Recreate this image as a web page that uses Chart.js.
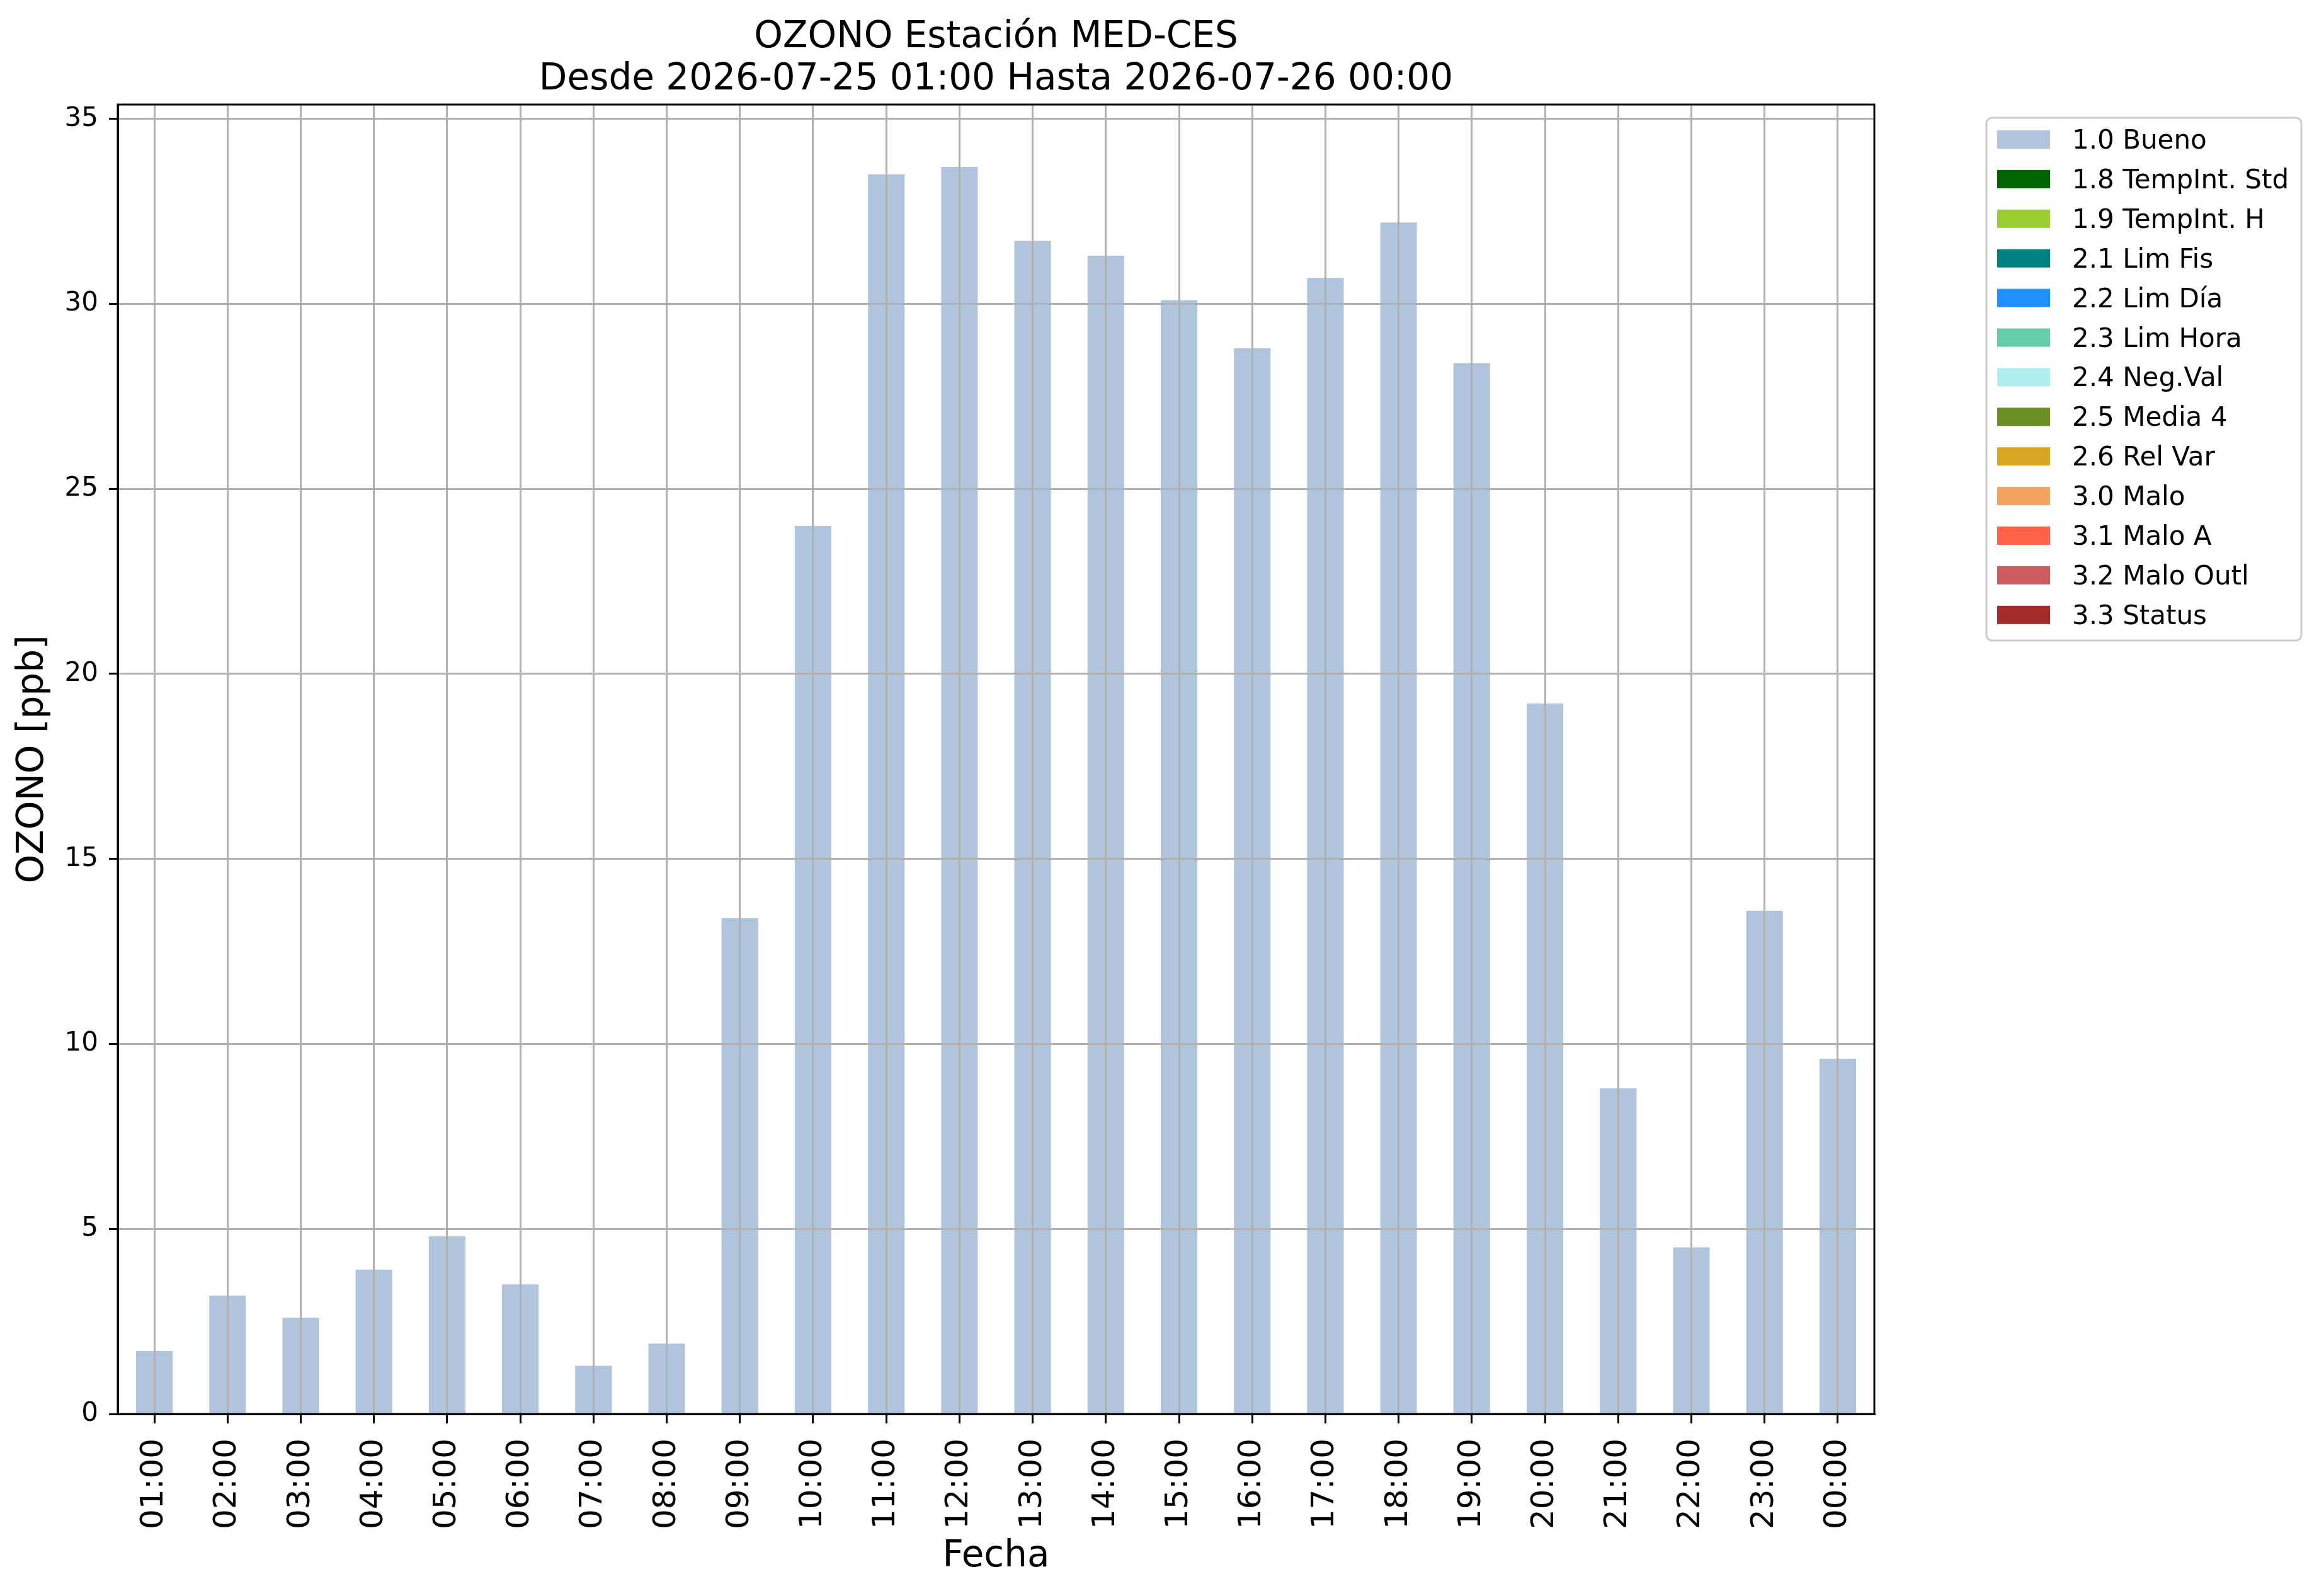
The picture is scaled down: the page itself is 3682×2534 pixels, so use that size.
<!DOCTYPE html>
<html>
<head>
<meta charset="utf-8">
<title>OZONO Estación MED-CES</title>
<script src="https://cdn.jsdelivr.net/npm/chart.js@4.4.1/dist/chart.umd.min.js"></script>
<style>
  html, body { margin: 0; padding: 0; background: #ffffff; }
  #wrap { width: 3682px; height: 2534px; }
</style>
</head>
<body>
<div id="wrap"><canvas id="ozonoChart" width="3682" height="2534"></canvas></div>
<script>
// Horas del periodo (eje X)
const horas = ["01:00", "02:00", "03:00", "04:00", "05:00", "06:00", "07:00", "08:00",
  "09:00", "10:00", "11:00", "12:00", "13:00", "14:00", "15:00", "16:00",
  "17:00", "18:00", "19:00", "20:00", "21:00", "22:00", "23:00", "00:00"];

// Valores de ozono con bandera 1.0 Bueno [ppb]
const bueno = [1.7, 3.2, 2.6, 3.9, 4.8, 3.5, 1.3, 1.9,
  13.4, 24.0, 33.5, 33.7, 31.7, 31.3, 30.1, 28.8,
  30.7, 32.2, 28.4, 19.2, 8.8, 4.5, 13.6, 9.6];

// Categorias de validacion y sus colores
const categorias = ["1.0 Bueno", "1.8 TempInt. Std", "1.9 TempInt. H", "2.1 Lim Fis",
  "2.2 Lim Día", "2.3 Lim Hora", "2.4 Neg.Val", "2.5 Media 4", "2.6 Rel Var",
  "3.0 Malo", "3.1 Malo A", "3.2 Malo Outl", "3.3 Status"];
const colores = ["#B0C4DE", "#006400", "#9ACD32", "#008080", "#1E90FF", "#66CDAA",
  "#AFEEEE", "#6B8E23", "#DAA520", "#F4A460", "#FF6347", "#CD5C5C", "#A52A2A"];

const yTicks = [0, 5, 10, 15, 20, 25, 30, 35];

const FONT = "DejaVu Sans";

// Titulo de dos lineas centrado sobre el area del grafico
const titlePlugin = {
  id: "matTitle",
  afterDraw(chart) {
    const ctx = chart.ctx;
    const area = chart.chartArea;
    const cx = (area.left + area.right) / 2;
    ctx.save();
    ctx.fillStyle = "#000000";
    ctx.font = "58px '" + FONT + "'";
    ctx.textAlign = "center";
    ctx.textBaseline = "alphabetic";
    ctx.fillText("OZONO Estación MED-CES", cx, 75);
    ctx.fillText("Desde 2026-07-25 01:00 Hasta 2026-07-26 00:00", cx, 142);
    ctx.restore();
  }
};

// Marco superior y derecho del area del grafico
const framePlugin = {
  id: "frame",
  afterDraw(chart) {
    const ctx = chart.ctx;
    const a = chart.chartArea;
    ctx.save();
    ctx.strokeStyle = "#000000";
    ctx.lineWidth = 3;
    ctx.strokeRect(a.left, a.top, a.right - a.left, a.bottom - a.top);
    ctx.restore();
  }
};

// Leyenda fuera del grafico, a la derecha, con marco redondeado
const legendPlugin = {
  id: "sideLegend",
  afterDraw(chart) {
    const ctx = chart.ctx;
    const sets = chart.data.datasets;
    const x0 = 3154, y0 = 187, w = 500, h = 830, r = 9;
    const rowH = 62.9;
    ctx.save();
    ctx.beginPath();
    ctx.roundRect(x0, y0, w, h, r);
    ctx.fillStyle = "rgba(255,255,255,0.8)";
    ctx.fill();
    ctx.lineWidth = 3;
    ctx.strokeStyle = "#cccccc";
    ctx.stroke();
    ctx.font = "42px '" + FONT + "'";
    ctx.textAlign = "left";
    ctx.textBaseline = "alphabetic";
    sets.forEach((ds, i) => {
      const yy = 207 + i * rowH;
      ctx.fillStyle = ds.backgroundColor;
      ctx.fillRect(3171, yy, 84, 29);
      ctx.fillStyle = "#000000";
      ctx.fillText(ds.label, 3290, 236 + i * rowH);
    });
    ctx.restore();
  }
};

const datasets = categorias.map((cat, i) => ({
  label: cat,
  data: i === 0 ? bueno : [],
  backgroundColor: colores[i],
  borderWidth: 0,
  barPercentage: 0.5,
  categoryPercentage: 1.0
}));

const ctx = document.getElementById("ozonoChart");

new Chart(ctx, {
  type: "bar",
  data: {
    labels: horas,
    datasets: datasets
  },
  options: {
    responsive: false,
    devicePixelRatio: 1,
    animation: false,
    layout: {
      padding: { top: 166, right: 706, bottom: 0, left: 0 }
    },
    plugins: {
      legend: { display: false },
      title: { display: false },
      tooltip: { enabled: false }
    },
    scales: {
      x: {
        stacked: true,
        offset: true,
        grid: {
          offset: false,
          color: "#b0b0b0",
          lineWidth: 3,
          tickColor: "#000000",
          tickWidth: 3,
          tickLength: 15,
          z: 1
        },
        border: { display: true, color: "#000000", width: 3, z: 2 },
        ticks: {
          autoSkip: false,
          minRotation: 90,
          maxRotation: 90,
          padding: 24,
          color: "#000000",
          font: { family: FONT, size: 50 }
        },
        title: {
          display: true,
          text: "Fecha",
          color: "#000000",
          font: { family: FONT, size: 58 },
          padding: { top: 0, bottom: 27 }
        },
        afterFit(scale) { scale.height = 289; }
      },
      y: {
        stacked: true,
        min: 0,
        max: 35.385,
        afterBuildTicks(scale) {
          scale.ticks = yTicks.map(v => ({ value: v }));
        },
        grid: {
          color: "#b0b0b0",
          lineWidth: 3,
          tickColor: "#000000",
          tickWidth: 3,
          tickLength: 14,
          z: 1
        },
        border: { display: true, color: "#000000", width: 3, z: 2 },
        ticks: {
          padding: 17,
          color: "#000000",
          font: { family: FONT, size: 42 }
        },
        title: {
          display: true,
          text: "OZONO [ppb]",
          color: "#000000",
          font: { family: FONT, size: 58 },
          padding: { top: 18, bottom: 0 }
        },
        afterFit(scale) { scale.width = 187; }
      }
    }
  },
  plugins: [titlePlugin, framePlugin, legendPlugin]
});
</script>
</body>
</html>
